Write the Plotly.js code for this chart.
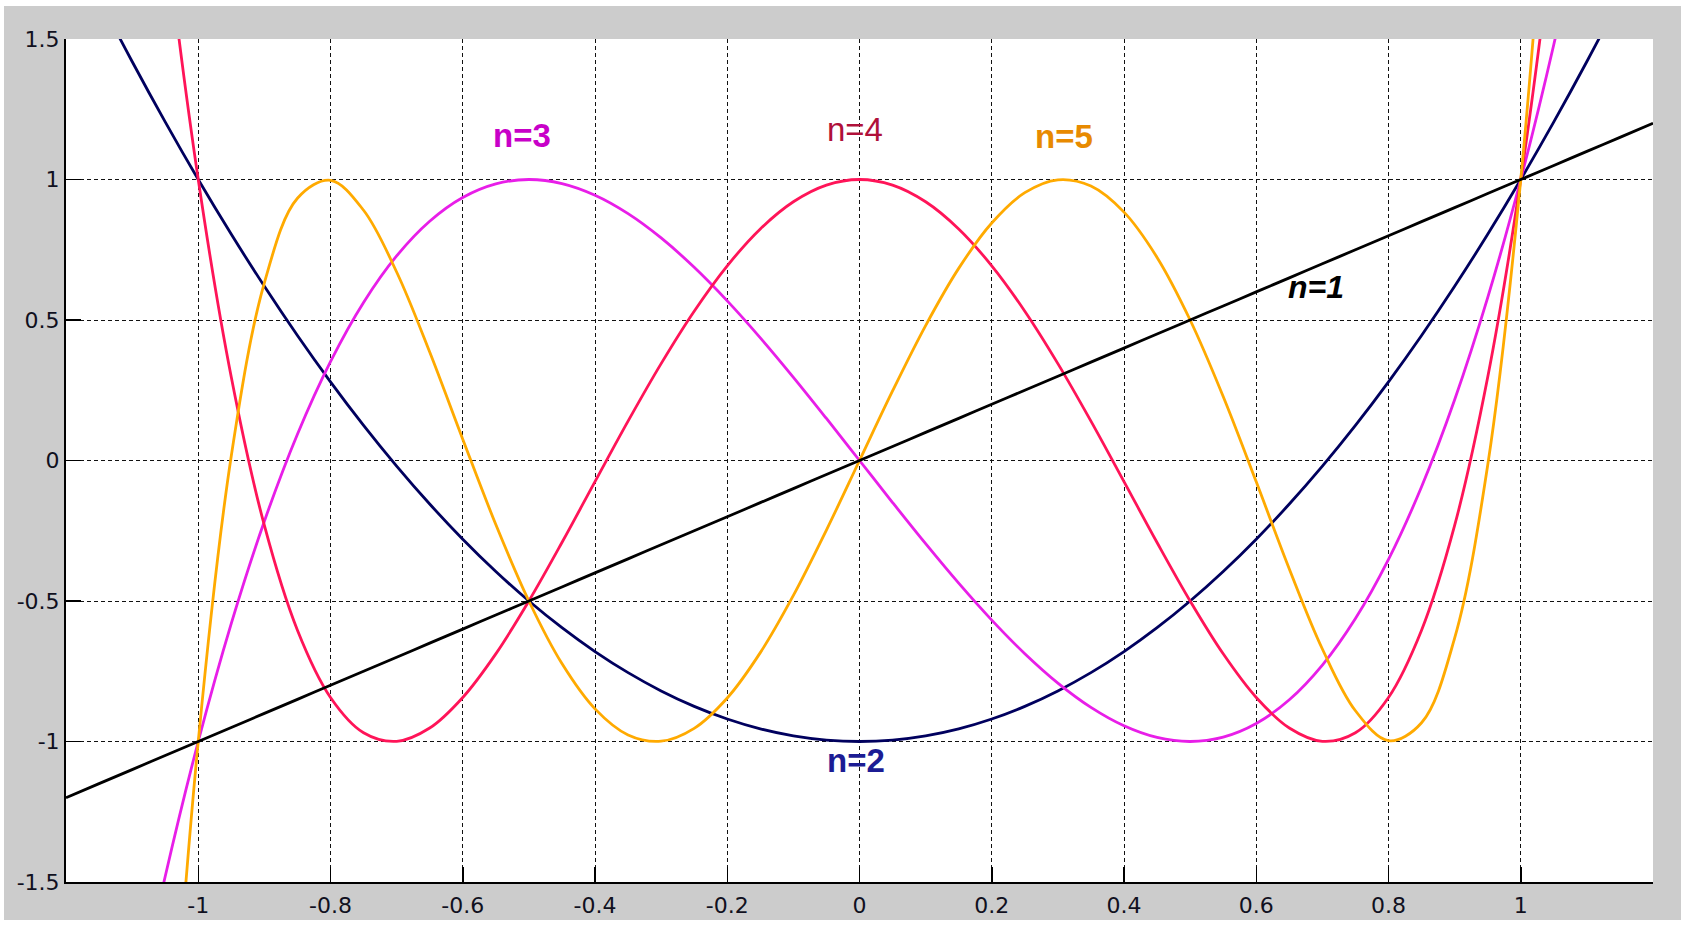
<!DOCTYPE html>
<html>
<head>
<meta charset="utf-8">
<script src="https://cdn.plot.ly/plotly-3.0.1.min.js"></script>
<style>
  html, body { margin: 0; padding: 0; background: #ffffff; }
  #chart { position: absolute; left: 4px; top: 6px; width: 1677px; height: 914px; }
</style>
</head>
<body>
<div id="chart"></div>
<script>
// Chebyshev polynomials of the first kind, T1..T5, sampled every 0.05
const xs = [-1.2,-1.15,-1.1,-1.05,-1,-0.95,-0.9,-0.85,-0.8,-0.75,-0.7,-0.65,-0.6,-0.55,-0.5,-0.45,-0.4,-0.35,-0.3,-0.25,-0.2,-0.15,-0.1,-0.05,
            0,0.05,0.1,0.15,0.2,0.25,0.3,0.35,0.4,0.45,0.5,0.55,0.6,0.65,0.7,0.75,0.8,0.85,0.9,0.95,1,1.05,1.1,1.15,1.2];

const t1 = [-1.2,-1.15,-1.1,-1.05,-1,-0.95,-0.9,-0.85,-0.8,-0.75,-0.7,-0.65,-0.6,-0.55,-0.5,-0.45,-0.4,-0.35,-0.3,-0.25,-0.2,-0.15,-0.1,-0.05,
            0,0.05,0.1,0.15,0.2,0.25,0.3,0.35,0.4,0.45,0.5,0.55,0.6,0.65,0.7,0.75,0.8,0.85,0.9,0.95,1,1.05,1.1,1.15,1.2];

const t2 = [1.88,1.645,1.42,1.205,1,0.805,0.62,0.445,0.28,0.125,-0.02,-0.155,-0.28,-0.395,-0.5,-0.595,-0.68,-0.755,-0.82,-0.875,-0.92,-0.955,-0.98,-0.995,
            -1,-0.995,-0.98,-0.955,-0.92,-0.875,-0.82,-0.755,-0.68,-0.595,-0.5,-0.395,-0.28,-0.155,-0.02,0.125,0.28,0.445,0.62,0.805,1,1.205,1.42,1.645,1.88];

const t3 = [-3.312,-2.6335,-2.024,-1.4805,-1,-0.5795,-0.216,0.0935,0.352,0.5625,0.728,0.8515,0.936,0.9845,1,0.9855,0.944,0.8785,0.792,0.6875,0.568,0.4365,0.296,0.1495,
            0,-0.1495,-0.296,-0.4365,-0.568,-0.6875,-0.792,-0.8785,-0.944,-0.9855,-1,-0.9845,-0.936,-0.8515,-0.728,-0.5625,-0.352,-0.0935,0.216,0.5795,1,1.4805,2.024,2.6335,3.312];

const t4 = [6.0688,4.4121,3.0328,1.9041,1,0.2961,-0.2312,-0.604,-0.8432,-0.9688,-0.9992,-0.952,-0.8432,-0.688,-0.5,-0.292,-0.0752,0.1401,0.3448,0.5313,0.6928,0.8241,0.9208,0.9801,
            1,0.9801,0.9208,0.8241,0.6928,0.5313,0.3448,0.1401,-0.0752,-0.292,-0.5,-0.688,-0.8432,-0.952,-0.9992,-0.9688,-0.8432,-0.604,-0.2312,0.2961,1,1.9041,3.0328,4.4121,6.0688];

const t5 = [-11.2531,-7.5142,-4.6482,-2.518,-1,0.017,0.6322,0.9332,0.9971,0.8906,0.6709,0.386,0.0758,-0.2278,-0.5,-0.7227,-0.8838,-0.9765,-0.9989,-0.9531,-0.8451,-0.6837,-0.4802,-0.2475,
            0,0.2475,0.4802,0.6837,0.8451,0.9531,0.9989,0.9765,0.8838,0.7227,0.5,0.2278,-0.0758,-0.386,-0.6709,-0.8906,-0.9971,-0.9332,-0.6322,-0.017,1,2.518,4.6482,7.5142,11.2531];

// Axis ticks
const xTickVals = [-1,-0.8,-0.6,-0.4,-0.2,0,0.2,0.4,0.6,0.8,1];
const xTickText = ["-1","-0.8","-0.6","-0.4","-0.2","0","0.2","0.4","0.6","0.8","1"];
const yTickVals = [-1.5,-1,-0.5,0,0.5,1,1.5];
const yTickText = ["-1.5","-1","-0.5","0","0.5","1","1.5"];

// Curve labels
const labelText = ["n=1","n=2","n=3","n=4","n=5"];
const labelX = [0.691,-0.005,-0.511,-0.007,0.309];
const labelY = [0.617,-1.068,1.158,1.178,1.154];

const lineColors = ["#000000","#00005e","#e81ee8","#ff1458","#ffaa00"];
const labelColors = ["#000000","#1c1c94","#c800c8","#b0103a","#e88a00"];
const labelFonts = [
  {family:"Liberation Sans, Arial, sans-serif", size:32, weight:"bold", style:"italic"},
  {family:"Liberation Sans, Arial, sans-serif", size:33, weight:"bold"},
  {family:"Liberation Sans, Arial, sans-serif", size:33, weight:"bold"},
  {family:"Liberation Sans, Arial, sans-serif", size:33},
  {family:"Liberation Sans, Arial, sans-serif", size:33, weight:"bold"}
];

const series = [t1, t2, t3, t4, t5];
const order = [1, 2, 3, 4, 0];
const traces = order.map(i => ({
  x: xs,
  y: series[i],
  type: "scatter",
  mode: "lines",
  line: {color: lineColors[i], width: 2.8, shape: "spline", smoothing: 1},
  hoverinfo: "skip",
  showlegend: false
}));

const annotations = labelText.map((t, i) => ({
  x: labelX[i], y: labelY[i], xref: "x", yref: "y",
  text: t, showarrow: false,
  xanchor: "center", yanchor: "middle",
  font: Object.assign({color: labelColors[i]}, labelFonts[i])
}));

const axisFont = {family: "DejaVu Sans, Tahoma, sans-serif", size: 22, color: "#101020"};

const layout = {
  width: 1677, height: 914,
  paper_bgcolor: "#cccccc",
  plot_bgcolor: "#ffffff",
  margin: {l: 62, r: 28, t: 32.5, b: 37.5},
  showlegend: false,
  xaxis: {
    range: [-1.2, 1.2],
    tickmode: "array", tickvals: xTickVals, ticktext: xTickText,
    ticks: "inside", ticklen: 15, tickwidth: 1.5, tickcolor: "#000000",
    showgrid: true, gridcolor: "#111111", gridwidth: 1, griddash: "4px,3px",
    zeroline: false,
    showline: true, linecolor: "#000000", linewidth: 2, mirror: false,
    tickfont: axisFont, ticklabelstandoff: 3,
    fixedrange: true
  },
  yaxis: {
    range: [-1.5, 1.5],
    tickmode: "array", tickvals: yTickVals, ticktext: yTickText,
    ticks: "inside", ticklen: 15, tickwidth: 1.5, tickcolor: "#000000",
    showgrid: true, gridcolor: "#111111", gridwidth: 1, griddash: "4px,3px",
    zeroline: false,
    showline: true, linecolor: "#000000", linewidth: 2, mirror: false,
    tickfont: axisFont, ticklabelstandoff: 0,
    fixedrange: true
  },
  annotations: annotations
};

Plotly.newPlot("chart", traces, layout, {displayModeBar: false, staticPlot: true});
</script>
</body>
</html>
